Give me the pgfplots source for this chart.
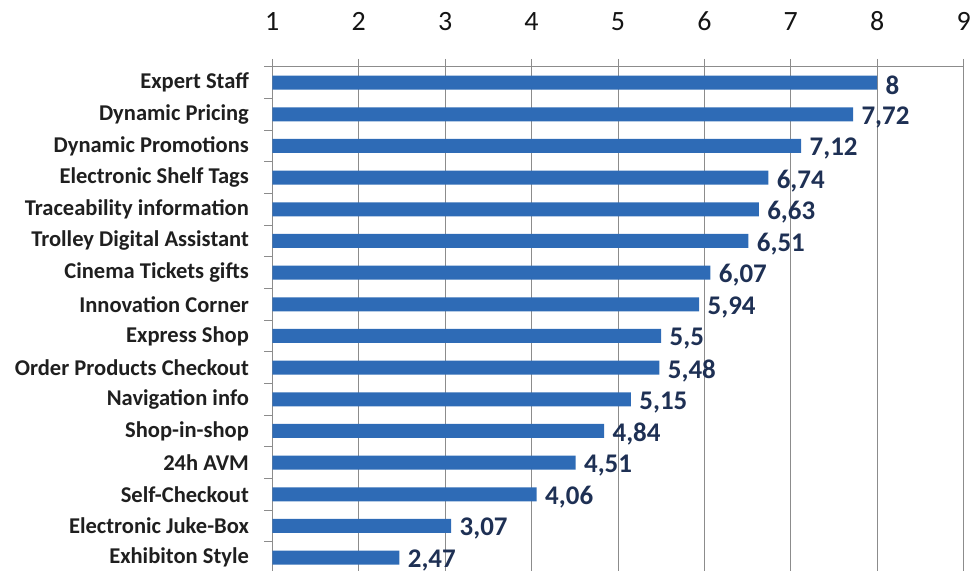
\documentclass[border=0pt]{standalone}
\usepackage{pgfplots}
\pgfplotsset{compat=1.18}
\usepackage{fontspec}
\setmainfont{Carlito}
\definecolor{barblue}{RGB}{46,107,182}
\definecolor{lab}{RGB}{30,48,84}
\definecolor{gridg}{RGB}{140,140,140}
\begin{document}
\begin{tikzpicture}
\begin{axis}[
  scale only axis, width=693bp, height=505bp,
  xbar, bar width=14bp,
  xmin=1, xmax=9, ymin=-0.41, ymax=15.5,
  axis x line*=top, axis y line*=left, xtick pos=upper,
  xtick={1,...,9}, xmajorgrids, grid style={gridg, line width=0.9pt},
  axis line style={gridg, line width=0.9pt},
  ytick={0,...,15},
  yticklabels={Exhibiton Style, Electronic Juke-Box, Self-Checkout, 24h AVM, Shop-in-shop, Navigation info, Order Products Checkout, Express Shop, Innovation Corner, Cinema Tickets gifts, Trolley Digital Assistant, Traceability information, Electronic Shelf Tags, Dynamic Promotions, Dynamic Pricing, Expert Staff},
  minor ytick={-0.5,0.5,...,15.5},
  tick align=outside, major tick length=8bp, minor tick length=8bp,
  x tick style={gridg, line width=0.9pt},
  major y tick style={draw=none},
  minor y tick style={draw=gridg, line width=0.9pt},
  yticklabel style={font=\fontsize{22.6bp}{25bp}\selectfont\bfseries, text=black!88, xshift=-12bp},
  xticklabel style={font=\fontsize{28bp}{30bp}\selectfont, text=black!92, yshift=25bp},
  /pgf/number format/use comma, /pgf/number format/assume math mode=true,
  nodes near coords, nodes near coords align={horizontal},
  every node near coord/.append style={font=\fontsize{27bp}{30bp}\selectfont\bfseries, text=lab, xshift=5bp, yshift=-3bp},
]
\addplot[fill=barblue, draw=none] coordinates {(2.47,0) (3.07,1) (4.06,2) (4.51,3) (4.84,4) (5.15,5) (5.48,6) (5.5,7) (5.94,8) (6.07,9) (6.51,10) (6.63,11) (6.74,12) (7.12,13) (7.72,14) (8,15)};
\end{axis}
\path ([xshift=-273bp,yshift=67bp]current axis.north west) rectangle ([xshift=8bp]current axis.south east);
\end{tikzpicture}
\end{document}
